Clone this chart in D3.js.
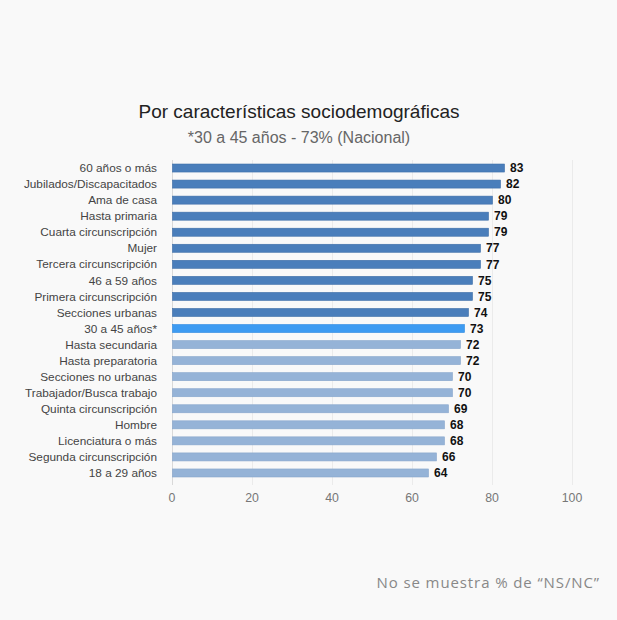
<!DOCTYPE html>
<html>
<head>
<meta charset="utf-8">
<script src="https://cdn.jsdelivr.net/npm/d3@7"></script>
<style>
  body { margin: 0; background: #f9f9f9; }
  svg { display: block; }
</style>
</head>
<body>
<div id="chart"></div>
<script>
const categories = [
  "60 años o más", "Jubilados/Discapacitados", "Ama de casa", "Hasta primaria",
  "Cuarta circunscripción", "Mujer", "Tercera circunscripción", "46 a 59 años",
  "Primera circunscripción", "Secciones urbanas", "30 a 45 años*", "Hasta secundaria",
  "Hasta preparatoria", "Secciones no urbanas", "Trabajador/Busca trabajo",
  "Quinta circunscripción", "Hombre", "Licenciatura o más",
  "Segunda circunscripción", "18 a 29 años"
]
const values = [83, 82, 80, 79, 79, 77, 77, 75, 75, 74, 73, 72, 72, 70, 70, 69, 68, 68, 66, 64]
// grupo: arriba del nacional, nacional, abajo del nacional
const groups = ["alto","alto","alto","alto","alto","alto","alto","alto","alto","alto",
  "nacional","bajo","bajo","bajo","bajo","bajo","bajo","bajo","bajo","bajo"]
const xTicks = [0, 20, 40, 60, 80, 100]

const colors = { alto: "#4a7ebb", nacional: "#3d9bf2", bajo: "#95b3d7" }
const strokes = { alto: "#3f6fa8", nacional: "#2f8ae0", bajo: "#87a6cc" }

const width = 617, height = 620
const margin = { top: 160, left: 172, right: 45, bottom: 139 }

const svg = d3.select("#chart").append("svg")
  .attr("width", width)
  .attr("height", height)

svg.append("rect").attr("width", width).attr("height", height).attr("fill", "#f9f9f9")

const x = d3.scaleLinear().domain([0, 100]).range([margin.left, width - margin.right])
const y = d3.scaleBand().domain(categories)
  .range([margin.top, height - margin.bottom])
  .paddingInner(0.5).paddingOuter(0.25)

// gridlines
svg.append("g")
  .selectAll("line")
  .data(xTicks)
  .join("line")
    .attr("x1", d => x(d) + 0.5)
    .attr("x2", d => x(d) + 0.5)
    .attr("y1", margin.top)
    .attr("y2", height - margin.bottom + 4)
    .attr("stroke", d => d === 0 ? "#d9d9d9" : "#ebebeb")
    .attr("stroke-width", 1)

// axis labels
svg.append("g")
  .selectAll("text")
  .data(xTicks)
  .join("text")
    .attr("x", d => x(d))
    .attr("y", height - margin.bottom + 21)
    .attr("text-anchor", "middle")
    .attr("font-family", "Liberation Sans, Arial, sans-serif")
    .attr("font-size", 12.3)
    .attr("fill", "#777")
    .text(d => d)

const rows = categories.map((c, i) => ({ c, v: values[i], g: groups[i] }))

svg.append("g")
  .selectAll("rect")
  .data(rows)
  .join("rect")
    .attr("x", x(0) + 0.5)
    .attr("y", d => y(d.c))
    .attr("width", d => x(d.v) - x(0))
    .attr("height", y.bandwidth())
    .attr("fill", d => colors[d.g])
    .attr("stroke", d => strokes[d.g])
    .attr("stroke-width", 0.6)

// category labels
svg.append("g")
  .selectAll("text")
  .data(rows)
  .join("text")
    .attr("x", x(0) - 15)
    .attr("y", d => y(d.c) + y.bandwidth() / 2)
    .attr("dy", "0.35em")
    .attr("text-anchor", "end")
    .attr("font-family", "Liberation Sans, Arial, sans-serif")
    .attr("font-size", 11.8)
    .attr("fill", "#444")
    .text(d => d.c)

// value labels
svg.append("g")
  .selectAll("text")
  .data(rows)
  .join("text")
    .attr("x", d => x(d.v) + 6)
    .attr("y", d => y(d.c) + y.bandwidth() / 2)
    .attr("dy", "0.35em")
    .attr("font-family", "Liberation Sans, Arial, sans-serif")
    .attr("font-size", 12)
    .attr("font-weight", "bold")
    .attr("fill", "#111")
    .text(d => d.v)

svg.append("text")
  .attr("x", 299)
  .attr("y", 118)
  .attr("text-anchor", "middle")
  .attr("font-family", "Liberation Sans, Arial, sans-serif")
  .attr("font-size", 19)
  .attr("fill", "#222")
  .text("Por características sociodemográficas")

svg.append("text")
  .attr("x", 299)
  .attr("y", 143)
  .attr("text-anchor", "middle")
  .attr("font-family", "Liberation Sans, Arial, sans-serif")
  .attr("font-size", 16)
  .attr("fill", "#666")
  .text("*30 a 45 años - 73% (Nacional)")

svg.append("text")
  .attr("x", 600)
  .attr("y", 588)
  .attr("text-anchor", "end")
  .attr("font-family", "Open Sans, sans-serif")
  .attr("font-size", 15)
  .attr("letter-spacing", 0.9)
  .attr("fill", "#888")
  .text("No se muestra % de “NS/NC”")
</script>
</body>
</html>
